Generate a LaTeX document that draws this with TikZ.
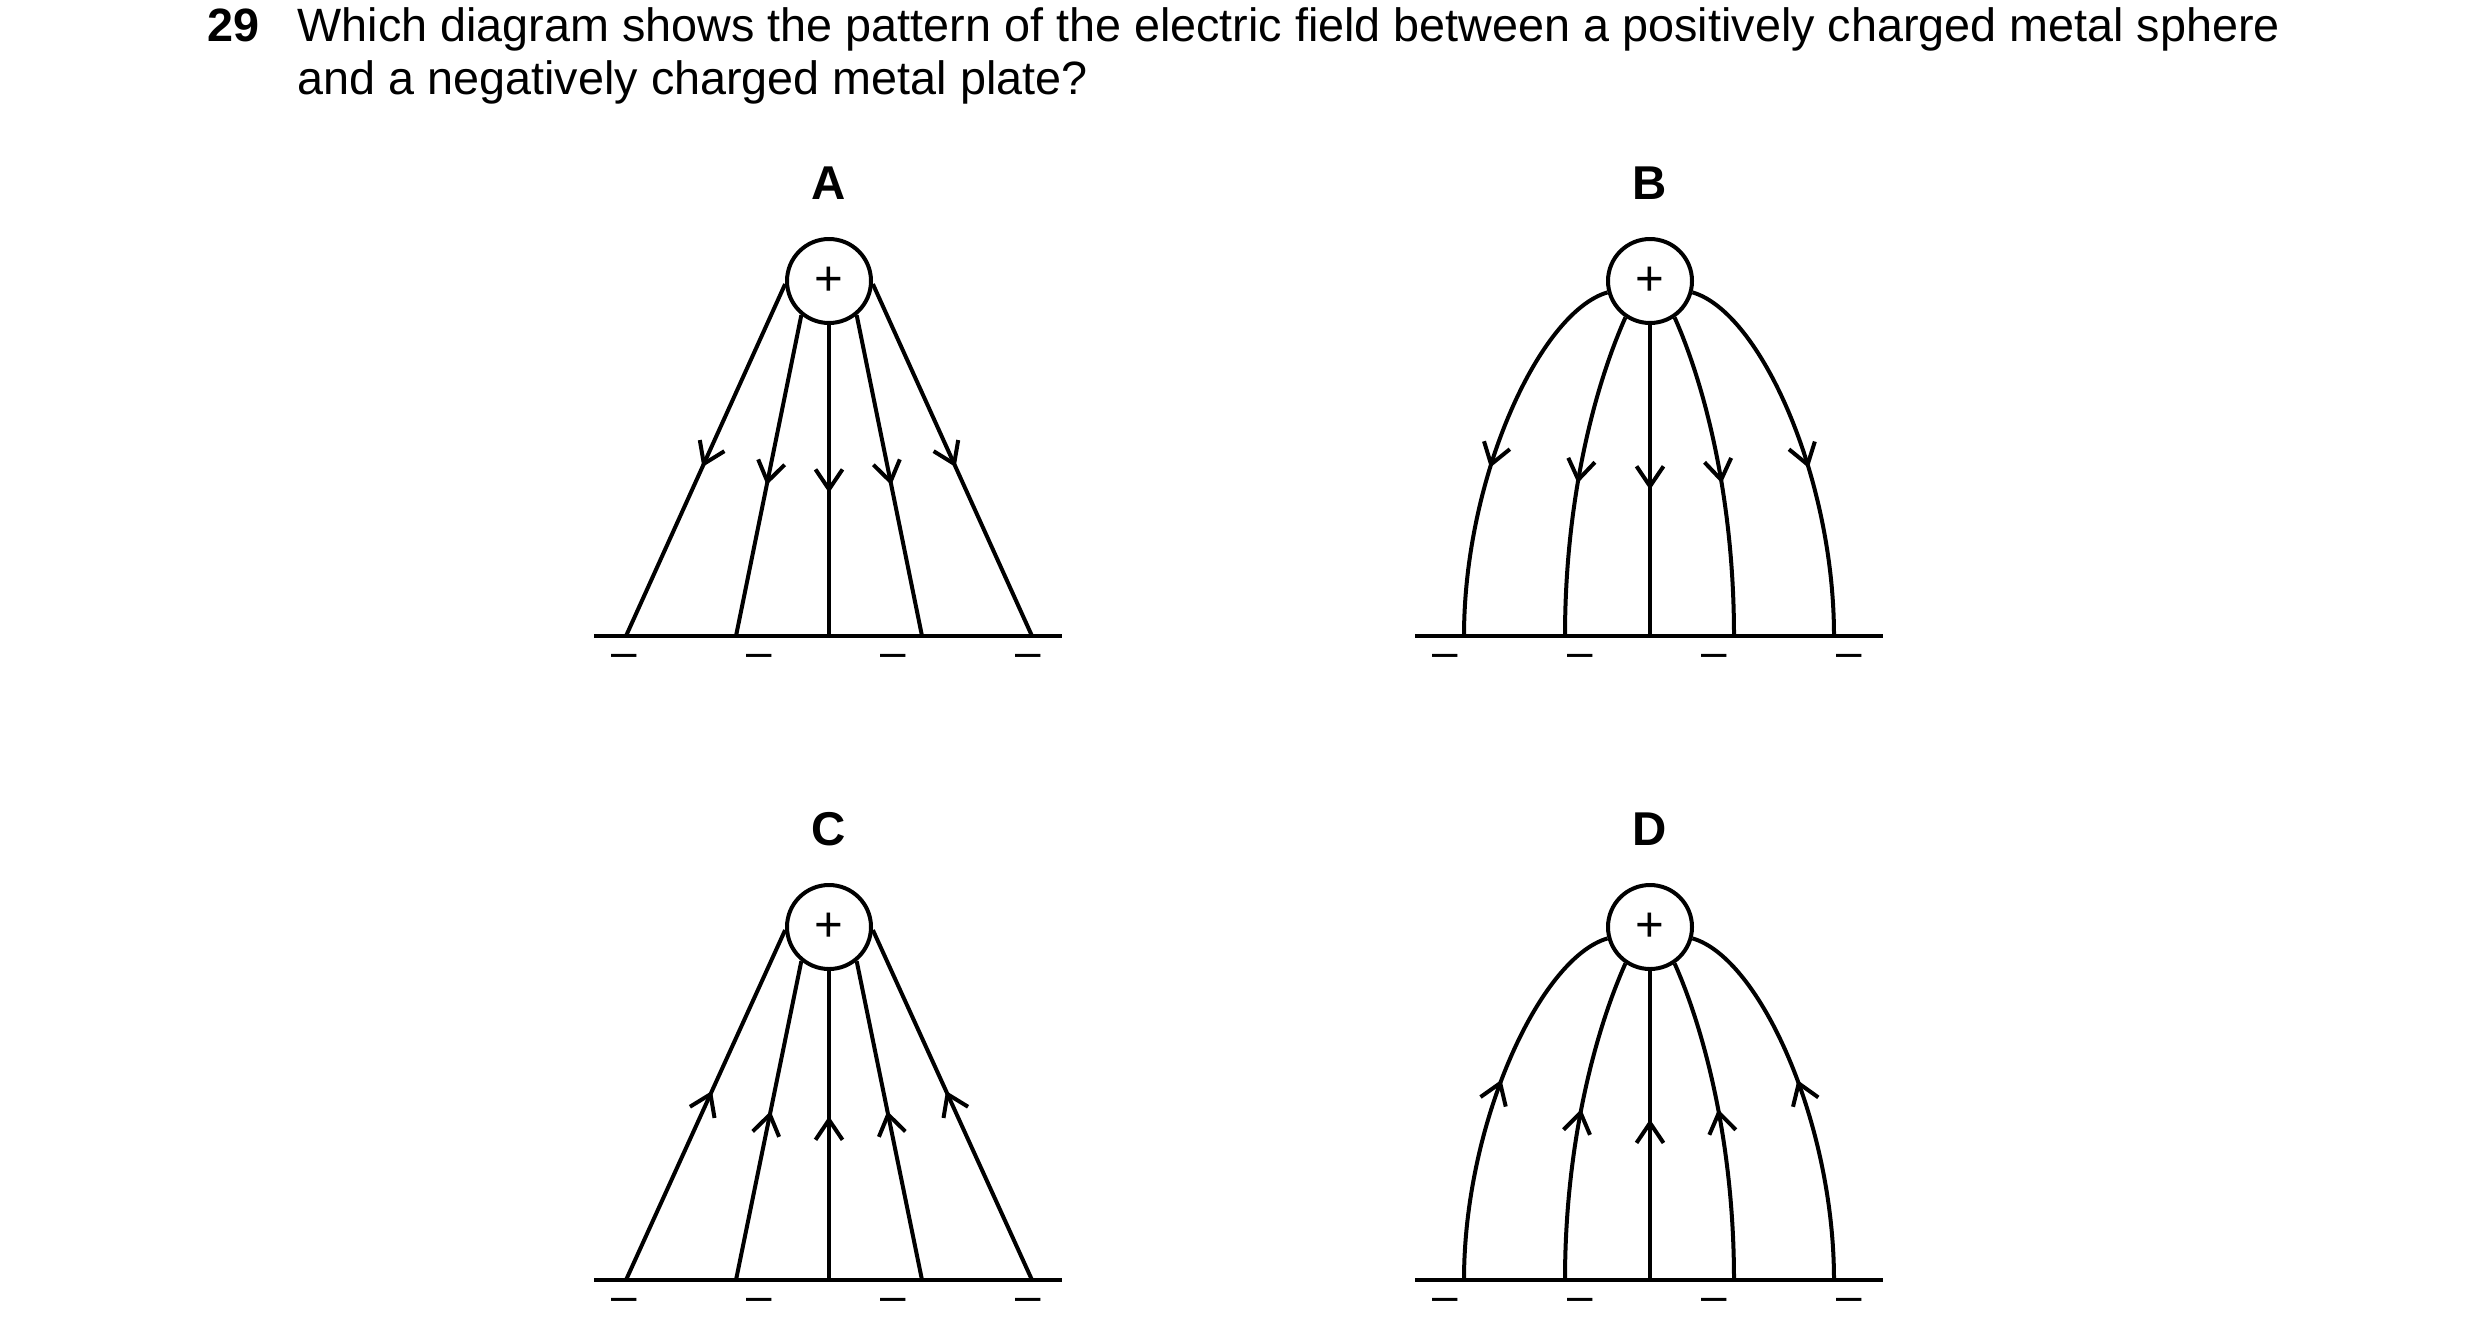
\documentclass[tikz,border=0pt]{standalone}
\usepackage{fontspec}
\setmainfont{Liberation Sans}
\usetikzlibrary{arrows.meta,decorations.markings}
\tikzset{
  fl/.style={line width=0.4mm},
  sphere/.style={circle,draw,line width=0.4mm,minimum size=8.4mm,inner sep=0pt,font=\fontsize{14}{16}\selectfont},
  lab/.style={font=\fontsize{13.5}{15}\selectfont\bfseries},
  neg/.style={inner sep=0pt,font=\fontsize{13}{15}\selectfont},
  dn/.style={fl,postaction={decorate},decoration={markings,mark=at position #1 with {\arrow{Straight Barb[length=2mm,width=2.7mm,line width=0.4mm]}}}},
  up/.style={fl,postaction={decorate},decoration={markings,mark=at position #1 with {\arrowreversed{Straight Barb[length=2mm,width=2.7mm,line width=0.4mm]}}}},
  txt/.style={anchor=base west,inner sep=0pt,font=\fontsize{13.3}{15}\selectfont}
}
% #1 prefix, #2 x centre, #3 y sphere, #4 y plate, #5 label, #6 style (dn/up), #7 pos outer, #8 pos inner, #9 pos centre
\newcommand\straightpanel[9]{%
  \node[lab] (#1l) at (#2,#3-98) {#5};
  \node[sphere] (#1s) at (#2,#3) {+};
  \coordinate (#1p1) at (#2-235,#4);
  \coordinate (#1p2) at (#2+233,#4);
  \draw[fl] (#1p1) -- (#1p2);
  \coordinate (#1f1) at (#2-203,#4);
  \coordinate (#1f2) at (#2-93,#4);
  \coordinate (#1f3) at (#2,#4);
  \coordinate (#1f4) at (#2+93,#4);
  \coordinate (#1f5) at (#2+203,#4);
  \draw[#6=#7] (#1s.184) -- (#1f1);
  \draw[#6=#8] (#1s.231) -- (#1f2);
  \draw[#6=#9] (#1s.270) -- (#1f3);
  \draw[#6=#8] (#1s.309) -- (#1f4);
  \draw[#6=#7] (#1s.356) -- (#1f5);
  \node[neg] (#1m1) at (#2-205,#4+25) {–};
  \node[neg] (#1m2) at (#2-70,#4+25) {–};
  \node[neg] (#1m3) at (#2+64,#4+25) {–};
  \node[neg] (#1m4) at (#2+199,#4+25) {–};
}
\newcommand\curvedpanel[9]{%
  \node[lab] (#1l) at (#2,#3-98) {#5};
  \node[sphere] (#1s) at (#2,#3) {+};
  \coordinate (#1p1) at (#2-235,#4);
  \coordinate (#1p2) at (#2+233,#4);
  \draw[fl] (#1p1) -- (#1p2);
  \coordinate (#1f1) at (#2-186,#4);
  \coordinate (#1f2) at (#2-85,#4);
  \coordinate (#1f3) at (#2,#4);
  \coordinate (#1f4) at (#2+84,#4);
  \coordinate (#1f5) at (#2+184,#4);
  \draw[#6=#7] (#1s.195) .. controls (#2-110,#3+31) and (#2-186,#3+196) .. (#1f1);
  \draw[#6=#8] (#1s.236) .. controls (#2-50,#3+93) and (#2-85,#3+206) .. (#1f2);
  \draw[#6=#9] (#1s.270) -- (#1f3);
  \draw[#6=#8] (#1s.304) .. controls (#2+50,#3+93) and (#2+84,#3+206) .. (#1f4);
  \draw[#6=#7] (#1s.345) .. controls (#2+110,#3+31) and (#2+184,#3+196) .. (#1f5);
  \node[neg] (#1m1) at (#2-205,#4+25) {–};
  \node[neg] (#1m2) at (#2-70,#4+25) {–};
  \node[neg] (#1m3) at (#2+64,#4+25) {–};
  \node[neg] (#1m4) at (#2+199,#4+25) {–};
}
\begin{document}
\begin{tikzpicture}[x=0.1mm,y=-0.1mm]
\useasboundingbox (0,0) rectangle (2480,1340);
\node[txt,font=\fontsize{13.3}{15}\selectfont\bfseries] (qn) at (207,41) {29};
\node[txt] (q1) at (297,41) {Which diagram shows the pattern of the electric field between a positively charged metal sphere};
\node[txt] (q2) at (297,94) {and a negatively charged metal plate?};
\straightpanel{a}{829}{281}{636}{A}{dn}{0.52}{0.53}{0.54}
\curvedpanel{b}{1650}{281}{636}{B}{dn}{0.56}{0.53}{0.53}
\straightpanel{c}{829}{927}{1280}{C}{up}{0.46}{0.47}{0.47}
\curvedpanel{d}{1650}{927}{1280}{D}{up}{0.47}{0.47}{0.48}
\end{tikzpicture}
\end{document}
